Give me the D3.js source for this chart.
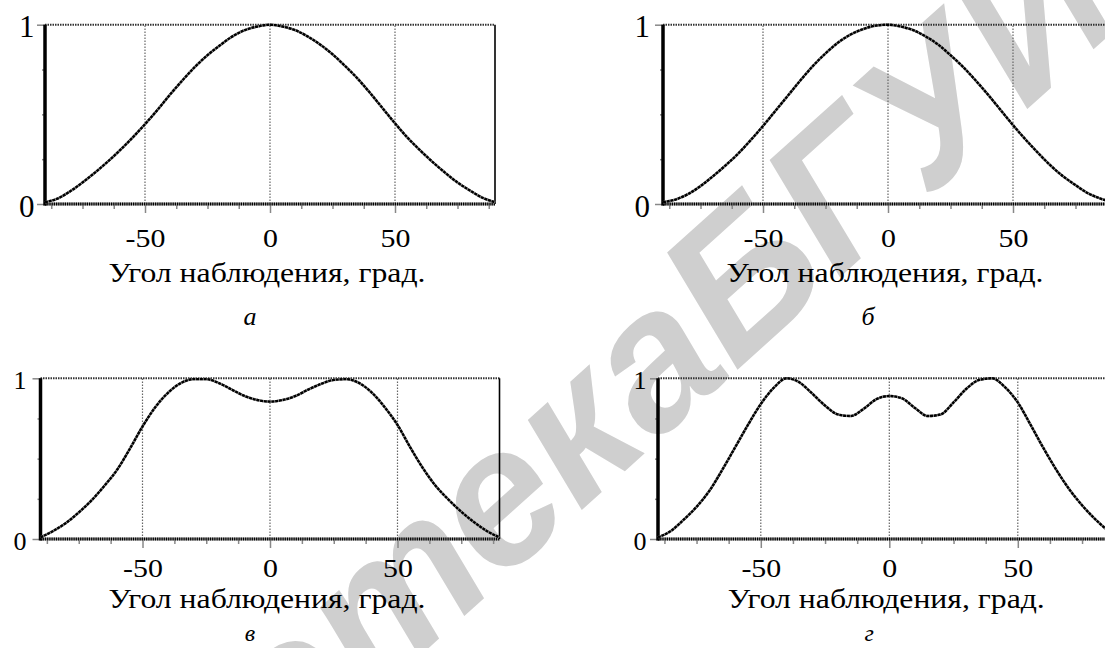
<!DOCTYPE html>
<html><head><meta charset="utf-8">
<script src="https://cdn.jsdelivr.net/npm/d3@7"></script>
<style>body{margin:0;background:#fff}svg{display:block}</style>
</head><body>
<svg id="c" width="1105" height="648"></svg>
<script>
// ---- data ----
const angles = [-90,-85,-80,-75,-70,-65,-60,-55,-50,-45,-40,-35,-30,-25,-20,-15,-10,-5,0,5,10,15,20,25,30,35,40,45,50,55,60,65,70,75,80,85,90];
const seriesA = [0.01,0.03,0.07,0.12,0.175,0.235,0.30,0.37,0.445,0.525,0.61,0.69,0.765,0.83,0.885,0.935,0.97,0.99,1.0,0.99,0.97,0.935,0.89,0.835,0.77,0.70,0.62,0.535,0.45,0.37,0.30,0.235,0.175,0.12,0.075,0.035,0.01];
const seriesB = [0.01,0.025,0.055,0.10,0.155,0.215,0.28,0.355,0.435,0.52,0.605,0.69,0.77,0.84,0.90,0.945,0.975,0.995,1.0,0.99,0.97,0.935,0.89,0.83,0.765,0.69,0.61,0.525,0.44,0.36,0.285,0.215,0.155,0.105,0.06,0.03,0.01];
const seriesC = [0.01,0.05,0.10,0.165,0.24,0.33,0.43,0.56,0.70,0.82,0.91,0.97,0.995,0.995,0.97,0.93,0.89,0.865,0.855,0.865,0.89,0.93,0.965,0.99,0.995,0.97,0.91,0.82,0.71,0.57,0.44,0.33,0.245,0.17,0.105,0.05,0.01];
const seriesD = [0.01,0.05,0.12,0.20,0.30,0.43,0.57,0.71,0.84,0.94,1.0,0.975,0.905,0.83,0.775,0.765,0.81,0.87,0.89,0.875,0.815,0.765,0.775,0.85,0.935,0.99,1.0,0.945,0.85,0.71,0.565,0.43,0.31,0.21,0.125,0.055,0.01];
const xMajorTicks = [-50,0,50];
const xMinorTicks = [-87.5,-75,-62.5,-37.5,-25,-12.5,12.5,25,37.5,62.5,75,87.5];
const yMajorTicks = [0,1];
const yMinorTicks = [0.25,0.5,0.75];
const xTitle = "Угол наблюдения, град.";
const panelLetters = ["а","б","в","г"];
const watermarkHead = "Библиотека ";
const watermarkTail = "БГУИР";
const xDomain = [-90,90];
const yDomain = [0,1];

// ---- layout ----
const panels = [
  {data: seriesA, x0:45,   x1:495,   top:24.7,  bot:204, tickLab:43, yFont:31, yLabOff:10.5, yLabDy:12, title:282, letterY:325, letterF:26},
  {data: seriesB, x0:663,  x1:1113,  top:24.7,  bot:204, tickLab:43, yFont:31, yLabOff:13,   yLabDy:12, title:282, letterY:325, letterF:26},
  {data: seriesC, x0:40.5, x1:499.5, top:378.3, bot:539, tickLab:38, yFont:26, yLabOff:14,   yLabDy:10, title:608, letterY:641, letterF:24},
  {data: seriesD, x0:658,  x1:1120.6,top:378.3, bot:539, tickLab:38, yFont:26, yLabOff:11.5, yLabDy:10, title:608, letterY:641, letterF:24}
];

const svg = d3.select("#c");
const serif = "'Liberation Serif','Times New Roman',serif";

// watermark (under everything)
const wm = svg.append("g").attr("transform", "translate(735,372) rotate(-42)")
  .attr("font-family", "'Liberation Sans',Arial,sans-serif").attr("font-weight", "bold")
  .attr("font-style", "italic").attr("font-size", 195).attr("fill", "#cfcfcf");
wm.append("text").attr("text-anchor", "end").text(watermarkHead);
wm.append("text").attr("text-anchor", "start").text(watermarkTail);

panels.forEach((p, i) => {
  const x = d3.scaleLinear().domain(xDomain).range([p.x0, p.x1]);
  const y = d3.scaleLinear().domain(yDomain).range([p.bot, p.top]);
  const g = svg.append("g");

  g.selectAll("line.grid").data(xMajorTicks).join("line")
    .attr("x1", d => x(d)).attr("x2", d => x(d))
    .attr("y1", y(0)).attr("y2", y(1))
    .attr("stroke", "#666").attr("stroke-width", 1.2).attr("stroke-dasharray", "1.5,1.5");
  g.append("line").attr("x1", x(-90)).attr("x2", x(90)).attr("y1", y(1)).attr("y2", y(1))
    .attr("stroke", "#333").attr("stroke-width", 2).attr("stroke-dasharray", "1.5,1");

  g.append("g").attr("transform", `translate(0,${y(0)})`)
    .call(d3.axisBottom(x).tickValues(xMinorTicks).tickSize(5).tickFormat(""))
    .call(a => { a.select(".domain").remove(); a.selectAll("line").attr("stroke", "#888").attr("stroke-width", 1.5); });
  g.append("g").attr("transform", `translate(0,${y(0)})`)
    .call(d3.axisBottom(x).tickValues(xMajorTicks).tickSize(9).tickFormat(d3.format("d")))
    .call(a => {
      a.select(".domain").remove();
      a.selectAll("line").attr("stroke", "#888").attr("stroke-width", 1.5);
      a.selectAll("text").attr("y", p.tickLab).attr("dy", null)
        .attr("font-family", serif).attr("font-size", 26).attr("fill", "#000")
        .attr("transform", "scale(1.15,1)")
        .text(d => d < 0 ? "-" + Math.abs(d) : d);
    });

  g.append("g").attr("transform", `translate(${x(-90)},0)`)
    .call(d3.axisLeft(y).tickValues(yMinorTicks).tickSize(3).tickFormat(""))
    .call(a => { a.select(".domain").remove(); a.selectAll("line").attr("stroke", "#888").attr("stroke-width", 1.5); });
  g.append("g").attr("transform", `translate(${x(-90)},0)`)
    .call(d3.axisLeft(y).tickValues(yMajorTicks).tickSize(8).tickFormat(d3.format("d")))
    .call(a => {
      a.select(".domain").remove();
      a.selectAll("line").attr("stroke", "#888").attr("stroke-width", 1.5);
      a.selectAll("text").attr("x", -p.yLabOff).attr("dy", null).attr("y", p.yLabDy)
        .attr("font-family", serif).attr("font-size", p.yFont).attr("fill", "#000")
        .attr("text-anchor", "end");
    });

  g.append("line").attr("x1", x(-90)).attr("x2", x(90)).attr("y1", y(0)).attr("y2", y(0))
    .attr("stroke", "#999").attr("stroke-width", 3.2);
  g.append("line").attr("x1", x(-90)).attr("x2", x(90)).attr("y1", y(0)).attr("y2", y(0))
    .attr("stroke", "#000").attr("stroke-width", 3.2).attr("stroke-dasharray", "1.2,1");
  g.append("line").attr("x1", x(-90)).attr("x2", x(-90)).attr("y1", y(0) + 1.6).attr("y2", y(1))
    .attr("stroke", "#000").attr("stroke-width", 3.5);
  g.append("line").attr("x1", x(90)).attr("x2", x(90)).attr("y1", y(0)).attr("y2", y(1))
    .attr("stroke", "#000").attr("stroke-width", 1.6);

  const line = d3.line().x((d, k) => x(angles[k])).y(d => y(d)).curve(d3.curveMonotoneX);
  g.append("path").datum(p.data).attr("d", line)
    .attr("fill", "none").attr("stroke", "#999").attr("stroke-width", 2.6);
  g.append("path").datum(p.data).attr("d", line)
    .attr("fill", "none").attr("stroke", "#000").attr("stroke-width", 2.4).attr("stroke-dasharray", "3,0.8");

  g.append("text").attr("x", x(0) - 3).attr("y", p.title).attr("text-anchor", "middle")
    .attr("font-family", serif).attr("font-size", 28).attr("fill", "#000")
    .attr("textLength", 317).attr("lengthAdjust", "spacingAndGlyphs")
    .text(xTitle);
  g.append("text").attr("x", x(0) - 20).attr("y", p.letterY).attr("text-anchor", "middle")
    .attr("font-family", serif).attr("font-style", "italic").attr("font-size", p.letterF).attr("fill", "#000")
    .text(panelLetters[i]);
});
</script>
</body></html>
